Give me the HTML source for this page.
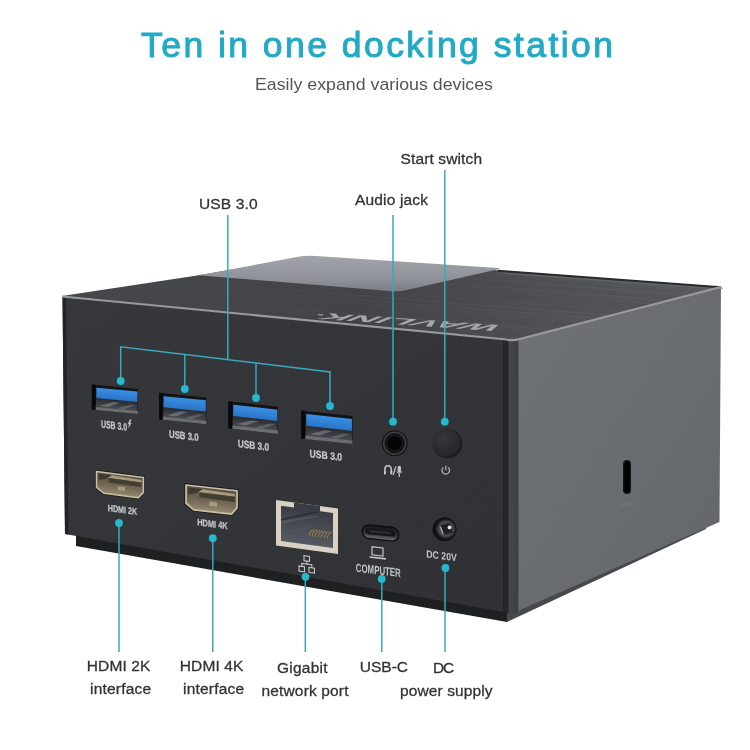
<!DOCTYPE html>
<html><head><meta charset="utf-8">
<style>
html,body{margin:0;padding:0;background:#fff;width:750px;height:750px;overflow:hidden}
svg{display:block;will-change:transform}
text{font-family:"Liberation Sans",sans-serif}
</style></head>
<body>
<svg width="750" height="750" viewBox="0 0 750 750">
<defs>
  <linearGradient id="gTop" gradientUnits="userSpaceOnUse" x1="62" y1="300" x2="721" y2="280">
    <stop offset="0" stop-color="#46474b"/>
    <stop offset="0.45" stop-color="#434448"/>
    <stop offset="0.75" stop-color="#4f5155"/>
    <stop offset="1" stop-color="#575a5e"/>
  </linearGradient>
  <linearGradient id="gPanel" x1="0" y1="0" x2="0" y2="1">
    <stop offset="0" stop-color="#a1a4aa"/>
    <stop offset="0.7" stop-color="#8d9097"/>
    <stop offset="1" stop-color="#7b7e84"/>
  </linearGradient>
  <linearGradient id="gFront" x1="0" y1="0" x2="1" y2="1">
    <stop offset="0" stop-color="#37383c"/>
    <stop offset="1" stop-color="#303135"/>
  </linearGradient>
  <linearGradient id="gRight" x1="0" y1="0" x2="1" y2="1">
    <stop offset="0" stop-color="#6f7277"/>
    <stop offset="1" stop-color="#63666b"/>
  </linearGradient>
  <linearGradient id="gEdge" x1="0" y1="0" x2="1" y2="0">
    <stop offset="0" stop-color="#232427"/>
    <stop offset="0.3" stop-color="#26272a"/>
    <stop offset="0.4" stop-color="#46484c"/>
    <stop offset="0.9" stop-color="#3c3e42"/>
    <stop offset="1" stop-color="#5e6064"/>
  </linearGradient>
  <linearGradient id="gBlue" x1="0" y1="0" x2="0" y2="1">
    <stop offset="0" stop-color="#3a8fe2"/>
    <stop offset="1" stop-color="#2a74c8"/>
  </linearGradient>
  <linearGradient id="gTray" x1="0" y1="0" x2="0" y2="1">
    <stop offset="0" stop-color="#18191c"/>
    <stop offset="0.55" stop-color="#2a2c30"/>
    <stop offset="1" stop-color="#4a4d52"/>
  </linearGradient>
  <linearGradient id="gHdmi" x1="0" y1="0" x2="0" y2="1">
    <stop offset="0" stop-color="#5a5244"/>
    <stop offset="0.5" stop-color="#6c624f"/>
    <stop offset="1" stop-color="#968870"/>
  </linearGradient>
  <linearGradient id="gRj" x1="0" y1="0" x2="0" y2="1">
    <stop offset="0" stop-color="#3a3d44"/>
    <stop offset="1" stop-color="#555961"/>
  </linearGradient>
  <radialGradient id="gBtn" cx="0.4" cy="0.35" r="0.7">
    <stop offset="0" stop-color="#36373b"/>
    <stop offset="1" stop-color="#242528"/>
  </radialGradient>

  <!-- USB-A port, local 46 x 26 -->
  <g id="usb">
    <polygon points="0,0 46,0 46,26 0,26" fill="#121315"/>
    <rect x="4" y="2.2" width="41.5" height="21.5" fill="url(#gTray)"/>
    <rect x="4.5" y="2.8" width="41" height="10.8" fill="url(#gBlue)"/>
    <polygon points="8,21 21,16 28,16 16,21.5" fill="#8a8e94" opacity="0.55"/>
    <polygon points="25,22 38,17 44,17 32,22.5" fill="#83878d" opacity="0.45"/>
    <rect x="3.5" y="22.8" width="42.5" height="3.2" fill="#6a6d72"/>
    <rect x="0" y="0" width="3.5" height="26" fill="#09090b"/>
  </g>
  <!-- HDMI port local 46 x 21 -->
  <g id="hdmi">
    <polygon points="-1.5,-1.5 47.5,-1.5 47.5,15.5 41.7,22.5 6.5,22.5 -1.5,17" fill="#18191b"/>
    <polygon points="0,0 46,0 46,15 41,21 7,21 0,16" fill="url(#gHdmi)" stroke="#cdc1a5" stroke-width="1.5" stroke-linejoin="round"/>
    <polygon points="2,2 15,2 10,6 2,8" fill="#3f3a31"/>
    <polygon points="10,6 15,2 44,3 44,5.5 12,5" fill="#a89a7d"/>
    <polygon points="12,5 44,5.5 44,10 12,9.5" fill="#433d32"/>
    <rect x="21" y="12" width="7" height="4" fill="#c9bda0" opacity="0.55"/>
  </g>
  <clipPath id="clipTop"><polygon points="62,296 198.7,275.3 306,257 502,270.5 721,287 512,341"/></clipPath>
  <linearGradient id="gUsbc" x1="0" y1="0" x2="0" y2="1">
    <stop offset="0" stop-color="#1b1c1e"/>
    <stop offset="0.6" stop-color="#2e2f32"/>
    <stop offset="1" stop-color="#6a6c70"/>
  </linearGradient>
  <linearGradient id="gMask" x1="0" y1="0" x2="1" y2="0">
    <stop offset="0" stop-color="#fff" stop-opacity="0.25"/>
    <stop offset="0.5" stop-color="#fff" stop-opacity="0.6"/>
    <stop offset="1" stop-color="#fff" stop-opacity="1"/>
  </linearGradient>
  <mask id="mStreak" maskUnits="userSpaceOnUse" x="0" y="0" width="750" height="750"><rect x="60" y="250" width="670" height="100" fill="url(#gMask)"/></mask>
</defs>

<!-- Title -->
<text x="141" y="57" font-size="35.5" fill="#21aac6" stroke="#21aac6" stroke-width="1" textLength="472" lengthAdjust="spacing">Ten in one docking station</text>
<text x="255" y="90" font-size="17" fill="#555" textLength="238" lengthAdjust="spacingAndGlyphs">Easily expand various devices</text>

<!-- plinth -->
<polygon points="76,530 507,604 507,622 76,546" fill="#1f2022"/>
<polygon points="507,604 706,515 706,529 507,622" fill="#48494d"/>
<!-- Box: top face -->
<polygon points="62,296 198.7,275.3 306,257 502,270.5 721,287 512,341" fill="url(#gTop)"/>
<g clip-path="url(#clipTop)" mask="url(#mStreak)">
<line x1="60" y1="239.7" x2="730" y2="292.0" stroke="#ffffff" stroke-opacity="0.028" stroke-width="1.1"/>
<line x1="60" y1="241.7" x2="730" y2="294.0" stroke="#ffffff" stroke-opacity="0.014" stroke-width="1.3"/>
<line x1="60" y1="243.0" x2="730" y2="295.2" stroke="#000000" stroke-opacity="0.017" stroke-width="1.0"/>
<line x1="60" y1="245.1" x2="730" y2="297.4" stroke="#000000" stroke-opacity="0.025" stroke-width="0.7"/>
<line x1="60" y1="246.5" x2="730" y2="298.8" stroke="#ffffff" stroke-opacity="0.038" stroke-width="1.2"/>
<line x1="60" y1="248.2" x2="730" y2="300.4" stroke="#000000" stroke-opacity="0.014" stroke-width="1.1"/>
<line x1="60" y1="249.4" x2="730" y2="301.7" stroke="#000000" stroke-opacity="0.010" stroke-width="1.0"/>
<line x1="60" y1="251.4" x2="730" y2="303.7" stroke="#000000" stroke-opacity="0.038" stroke-width="1.3"/>
<line x1="60" y1="252.7" x2="730" y2="305.0" stroke="#ffffff" stroke-opacity="0.035" stroke-width="1.3"/>
<line x1="60" y1="254.8" x2="730" y2="307.0" stroke="#ffffff" stroke-opacity="0.014" stroke-width="0.8"/>
<line x1="60" y1="256.5" x2="730" y2="308.7" stroke="#000000" stroke-opacity="0.025" stroke-width="0.8"/>
<line x1="60" y1="257.6" x2="730" y2="309.9" stroke="#ffffff" stroke-opacity="0.021" stroke-width="1.1"/>
<line x1="60" y1="259.3" x2="730" y2="311.5" stroke="#000000" stroke-opacity="0.038" stroke-width="1.3"/>
<line x1="60" y1="261.2" x2="730" y2="313.4" stroke="#000000" stroke-opacity="0.042" stroke-width="0.7"/>
<line x1="60" y1="262.8" x2="730" y2="315.0" stroke="#000000" stroke-opacity="0.042" stroke-width="1.1"/>
<line x1="60" y1="264.2" x2="730" y2="316.5" stroke="#000000" stroke-opacity="0.017" stroke-width="1.1"/>
<line x1="60" y1="265.4" x2="730" y2="317.6" stroke="#000000" stroke-opacity="0.014" stroke-width="1.4"/>
<line x1="60" y1="266.8" x2="730" y2="319.0" stroke="#ffffff" stroke-opacity="0.035" stroke-width="0.7"/>
<line x1="60" y1="268.6" x2="730" y2="320.9" stroke="#000000" stroke-opacity="0.035" stroke-width="0.6"/>
<line x1="60" y1="270.5" x2="730" y2="322.8" stroke="#000000" stroke-opacity="0.010" stroke-width="0.9"/>
<line x1="60" y1="272.4" x2="730" y2="324.6" stroke="#ffffff" stroke-opacity="0.042" stroke-width="1.4"/>
<line x1="60" y1="273.4" x2="730" y2="325.7" stroke="#ffffff" stroke-opacity="0.014" stroke-width="0.6"/>
<line x1="60" y1="274.9" x2="730" y2="327.2" stroke="#000000" stroke-opacity="0.025" stroke-width="0.7"/>
<line x1="60" y1="276.3" x2="730" y2="328.6" stroke="#ffffff" stroke-opacity="0.038" stroke-width="1.4"/>
<line x1="60" y1="278.8" x2="730" y2="331.1" stroke="#ffffff" stroke-opacity="0.021" stroke-width="1.0"/>
<line x1="60" y1="280.1" x2="730" y2="332.4" stroke="#ffffff" stroke-opacity="0.028" stroke-width="1.1"/>
<line x1="60" y1="282.0" x2="730" y2="334.3" stroke="#ffffff" stroke-opacity="0.028" stroke-width="1.2"/>
<line x1="60" y1="282.9" x2="730" y2="335.2" stroke="#000000" stroke-opacity="0.021" stroke-width="1.0"/>
<line x1="60" y1="284.8" x2="730" y2="337.1" stroke="#ffffff" stroke-opacity="0.010" stroke-width="1.1"/>
<line x1="60" y1="285.9" x2="730" y2="338.2" stroke="#000000" stroke-opacity="0.032" stroke-width="0.6"/>
<line x1="60" y1="288.1" x2="730" y2="340.4" stroke="#000000" stroke-opacity="0.025" stroke-width="0.9"/>
<line x1="60" y1="289.8" x2="730" y2="342.1" stroke="#ffffff" stroke-opacity="0.035" stroke-width="0.6"/>
<line x1="60" y1="291.4" x2="730" y2="343.6" stroke="#ffffff" stroke-opacity="0.042" stroke-width="1.0"/>
<line x1="60" y1="292.9" x2="730" y2="345.2" stroke="#ffffff" stroke-opacity="0.021" stroke-width="0.9"/>
<line x1="60" y1="294.3" x2="730" y2="346.5" stroke="#ffffff" stroke-opacity="0.028" stroke-width="0.9"/>
<line x1="60" y1="296.3" x2="730" y2="348.5" stroke="#ffffff" stroke-opacity="0.010" stroke-width="1.2"/>
<line x1="60" y1="297.4" x2="730" y2="349.7" stroke="#000000" stroke-opacity="0.017" stroke-width="0.8"/>
<line x1="60" y1="298.9" x2="730" y2="351.1" stroke="#000000" stroke-opacity="0.025" stroke-width="0.7"/>
<line x1="60" y1="300.6" x2="730" y2="352.9" stroke="#000000" stroke-opacity="0.021" stroke-width="1.0"/>
<line x1="60" y1="302.8" x2="730" y2="355.0" stroke="#ffffff" stroke-opacity="0.017" stroke-width="1.1"/>
<line x1="60" y1="304.4" x2="730" y2="356.6" stroke="#ffffff" stroke-opacity="0.025" stroke-width="0.7"/>
<line x1="60" y1="305.6" x2="730" y2="357.9" stroke="#000000" stroke-opacity="0.017" stroke-width="1.3"/>
<line x1="60" y1="306.9" x2="730" y2="359.1" stroke="#000000" stroke-opacity="0.021" stroke-width="1.1"/>
<line x1="60" y1="309.1" x2="730" y2="361.4" stroke="#ffffff" stroke-opacity="0.021" stroke-width="0.8"/>
<line x1="60" y1="310.7" x2="730" y2="363.0" stroke="#ffffff" stroke-opacity="0.017" stroke-width="0.9"/>
<line x1="60" y1="311.9" x2="730" y2="364.2" stroke="#000000" stroke-opacity="0.025" stroke-width="0.7"/>
<line x1="60" y1="313.1" x2="730" y2="365.4" stroke="#000000" stroke-opacity="0.038" stroke-width="1.4"/>
<line x1="60" y1="315.1" x2="730" y2="367.4" stroke="#000000" stroke-opacity="0.042" stroke-width="0.8"/>
<line x1="60" y1="317.0" x2="730" y2="369.3" stroke="#000000" stroke-opacity="0.038" stroke-width="1.0"/>
<line x1="60" y1="318.2" x2="730" y2="370.4" stroke="#ffffff" stroke-opacity="0.021" stroke-width="0.7"/>
<line x1="60" y1="320.1" x2="730" y2="372.3" stroke="#000000" stroke-opacity="0.021" stroke-width="0.6"/>
<line x1="60" y1="322.0" x2="730" y2="374.3" stroke="#000000" stroke-opacity="0.032" stroke-width="1.3"/>
<line x1="60" y1="323.6" x2="730" y2="375.9" stroke="#ffffff" stroke-opacity="0.028" stroke-width="1.2"/>
<line x1="60" y1="324.5" x2="730" y2="376.7" stroke="#000000" stroke-opacity="0.021" stroke-width="1.0"/>
<line x1="60" y1="326.3" x2="730" y2="378.6" stroke="#000000" stroke-opacity="0.038" stroke-width="0.9"/>
<line x1="60" y1="327.8" x2="730" y2="380.0" stroke="#ffffff" stroke-opacity="0.038" stroke-width="1.2"/>
<line x1="60" y1="329.5" x2="730" y2="381.7" stroke="#ffffff" stroke-opacity="0.017" stroke-width="1.3"/>
<line x1="60" y1="330.9" x2="730" y2="383.1" stroke="#000000" stroke-opacity="0.035" stroke-width="1.2"/>
<line x1="60" y1="333.1" x2="730" y2="385.4" stroke="#000000" stroke-opacity="0.010" stroke-width="1.3"/>
<line x1="60" y1="333.9" x2="730" y2="386.2" stroke="#ffffff" stroke-opacity="0.017" stroke-width="1.0"/>
</g>
<polyline points="498,270.8 721,287.3" fill="none" stroke="#2a2b2e" stroke-width="2"/>
<polyline points="503,273 714,288.8" fill="none" stroke="#686a6e" stroke-width="1"/>

<path d="M201.6,274.75 L298.1,256.8 Q306,255.3 316,255.96 L498,268.04 Q502,268.3 498.1,269.2 L406.8,289.9 Q399,291.7 389,290.9 L201.7,275.5 Q198.7,275.3 201.6,274.75 Z" fill="url(#gPanel)"/>
<!-- front face -->
<polygon points="62.5,296.5 508,339.5 507,612.5 65,534" fill="url(#gFront)"/>
<polygon points="62.5,296.5 66,297 68.5,534.5 65,534" fill="#232427"/>
<!-- right face -->
<polygon points="512,340 721,286 719.5,522 512,613.5" fill="url(#gRight)"/>
<!-- corner edge -->
<polygon points="503,339 519,339.5 519,614.5 503,612.5" fill="url(#gEdge)"/>
<!-- edge highlights -->
<path d="M62,296.5 L504,339.3 Q512,341 519,339.3 L719,287.5 Q721.5,287 721.5,289" fill="none" stroke="#989a9e" stroke-width="2.1"/>

<!-- logo on top -->
<text transform="matrix(-1,-0.07,0.9,-0.36,505,325.5)" x="0" y="0" font-size="22" font-weight="bold" fill="#a4a7ab" textLength="176" lengthAdjust="spacingAndGlyphs">WAVLINK</text>
<rect x="318" y="314" width="5" height="1.5" fill="#8e9195" transform="rotate(4 320 315)"/>

<!-- USB ports -->
<use href="#usb" transform="matrix(1,0.0957,0,0.97,91.9,384.5)"/>
<use href="#usb" transform="matrix(1.028,0.102,0,1.027,159,392.8)"/>
<use href="#usb" transform="matrix(1.076,0.122,0,1.042,228.4,401.2)"/>
<use href="#usb" transform="matrix(1.115,0.122,0,1.077,301.2,410.5)"/>

<g font-size="10.5" font-weight="bold" fill="#c3c5c8" stroke="#c3c5c8" stroke-width="0.3">
<text transform="matrix(1,0.12,0,1,101,427.5)" textLength="26" lengthAdjust="spacingAndGlyphs">USB 3.0</text>
<polygon transform="matrix(1,0.12,0,1,127.3,419.3)" points="2.6,0 4,0 2.6,3.3 4,3.3 1.2,8.2 1.9,4.6 0.7,4.6" fill="#c3c5c8"/>
<text transform="matrix(1,0.12,0,1,169,437.5)" textLength="29.5" lengthAdjust="spacingAndGlyphs">USB 3.0</text>
<text transform="matrix(1,0.12,0,1,237.7,447)" textLength="31.5" lengthAdjust="spacingAndGlyphs">USB 3.0</text>
<text transform="matrix(1,0.12,0,1,309.6,457)" textLength="32.5" lengthAdjust="spacingAndGlyphs">USB 3.0</text>
</g>

<!-- HDMI -->
<use href="#hdmi" transform="matrix(1.02,0.13,0,1.0,96.5,471.4)"/>
<use href="#hdmi" transform="matrix(1.11,0.125,0,1.14,186,485)"/>
<g font-size="9.5" font-weight="bold" fill="#c3c5c8" stroke="#c3c5c8" stroke-width="0.25">
<text transform="matrix(1,0.13,0,1,107.7,511.2)" textLength="29.5" lengthAdjust="spacingAndGlyphs">HDMI 2K</text>
<text transform="matrix(1,0.13,0,1,197.2,525.3)" textLength="30.5" lengthAdjust="spacingAndGlyphs">HDMI 4K</text>
</g>

<!-- RJ45 -->
<g transform="matrix(1,0.137,0,1.02,276,500)">
  <rect x="0" y="0" width="62" height="44.5" fill="#d9d1c3"/>
  <rect x="5" y="5" width="52" height="34.5" fill="url(#gRj)"/>
  <rect x="18" y="0" width="26" height="8" fill="#3a3d43"/>
  <polygon points="5,18 5,19.5 42,6.5 40,6" fill="#23252a" opacity="0.7"/>
  <polygon points="5,20 40,10 42,10.5 5,22.5" fill="#60646b" opacity="0.55"/>
  <polygon points="5,30 36,21 38,21.5 5,32" fill="#555960" opacity="0.5"/>
  <g stroke="#a8854f" stroke-width="1" opacity="0.8" fill="none">
    <path d="M33,31 Q34,25 38,24"/><path d="M36,31 Q37,25 41,24"/>
    <path d="M39,31 Q40,25 44,24"/><path d="M42,31 Q43,25 47,24"/>
    <path d="M45,31 Q46,25 50,24"/><path d="M48,31 Q49,25 53,24"/>
    <path d="M51,31 Q52,25 56,24"/>
  </g>
</g>
<!-- network icon -->
<g stroke="#c3c5c8" stroke-width="1.1" fill="none" transform="matrix(1,0.14,0,1,299,555)">
  <rect x="5" y="0" width="5.5" height="5"/>
  <rect x="0" y="11" width="5.5" height="5"/>
  <rect x="10" y="11" width="5.5" height="5"/>
  <polyline points="7.8,5 7.8,8 2.8,8 2.8,11"/>
  <polyline points="7.8,8 12.8,8 12.8,11"/>
</g>

<!-- USB-C -->
<g transform="matrix(1,0.1,0,1,361.5,523.5)">
  <rect x="0" y="0" width="38" height="15" rx="7.5" fill="#0f1012"/>
  <rect x="1.5" y="1.8" width="35" height="11.8" rx="5.9" fill="url(#gUsbc)"/>
  <rect x="4" y="3.8" width="30" height="6.2" rx="3.1" fill="#151618"/>
  <rect x="8" y="5.6" width="22" height="2.4" rx="1.2" fill="#2a2b2e"/>
</g>
<!-- laptop icon -->
<g transform="matrix(1,0.12,0,1,370,546)" fill="none" stroke="#c3c5c8" stroke-width="1.2">
  <rect x="2" y="0.5" width="11" height="8"/>
  <line x1="-0.5" y1="11" x2="16" y2="11" stroke-width="1.6"/>
</g>
<text transform="matrix(1,0.12,0,1,355.8,571.7)" font-size="12" font-weight="bold" fill="#c3c5c8" textLength="45" lengthAdjust="spacingAndGlyphs">COMPUTER</text>

<!-- DC jack -->
<circle cx="444.5" cy="529.2" r="12" fill="#111214"/>
<circle cx="445.5" cy="529" r="9" fill="#45474b"/>
<circle cx="446" cy="529" r="9" fill="none" stroke="#2a2b2e" stroke-width="1.5"/>
<rect x="441.5" y="524" width="10" height="10" fill="#1e1f22" transform="rotate(-15 446.5 529)"/>
<line x1="440.5" y1="527" x2="443" y2="534" stroke="#a5a7ab" stroke-width="1.4" stroke-linecap="round"/>
<circle cx="449.5" cy="527.4" r="1.9" fill="#e6e7e9"/>
<text transform="matrix(1,0.12,0,1,426.3,557.5)" font-size="10.5" font-weight="bold" fill="#c3c5c8" textLength="30.5" lengthAdjust="spacingAndGlyphs">DC 20V</text>

<!-- Audio jack -->
<circle cx="394.7" cy="443.3" r="13" fill="#141517"/>
<circle cx="394.7" cy="443.3" r="11" fill="none" stroke="#3e4044" stroke-width="1.5"/>
<circle cx="394.7" cy="443.3" r="7" fill="#050505"/>
<!-- audio icon -->
<g fill="none" stroke="#c3c5c8" stroke-width="1.5">
  <path d="M384.9,473 V469 A3.2,3.2 0 0 1 391.3,469 V473"/>
  <rect x="384" y="470.8" width="2" height="3.8" rx="0.8" fill="#c3c5c8" stroke="none"/>
  <rect x="390.3" y="470.8" width="2" height="3.8" rx="0.8" fill="#c3c5c8" stroke="none"/>
  <line x1="393.2" y1="475" x2="395.8" y2="466.5" stroke-width="1.2"/>
  <rect x="397.6" y="465.8" width="3.4" height="7" rx="1.7" fill="#c3c5c8" stroke="none"/>
  <path d="M396.8,471.5 Q399.3,475.5 401.8,471.5" stroke-width="1"/>
  <line x1="399.3" y1="474" x2="399.3" y2="477" stroke-width="1.2"/>
</g>

<!-- Power button -->
<circle cx="447.5" cy="443.5" r="14.7" fill="#1b1c1e"/>
<circle cx="446.5" cy="442.5" r="14" fill="url(#gBtn)"/>
<!-- power icon -->
<g transform="translate(445.8,470.2)" fill="none" stroke="#b5b7ba" stroke-width="1.2">
  <path d="M-2.5,-2.8 A3.8,3.8 0 1 0 2.5,-2.8"/>
  <line x1="0" y1="-4.5" x2="0" y2="0"/>
</g>

<!-- lock slot -->
<rect x="623" y="460" width="8" height="34" rx="4" fill="#121315"/>
<rect x="624.5" y="462" width="5" height="30" rx="2.5" fill="#000"/>
<text x="627" y="506" font-size="5" fill="#7c7f84" text-anchor="middle">LOCK</text>

<!-- callout labels -->
<g font-size="15.5" fill="#333" stroke="#333" stroke-width="0.3" lengthAdjust="spacingAndGlyphs">
<text x="199" y="209.1" textLength="58.5">USB 3.0</text>
<text x="355" y="204.8" textLength="73">Audio jack</text>
<text x="400.5" y="163.5" textLength="81.5">Start switch</text>
<text x="86.8" y="671" textLength="63.5">HDMI 2K</text>
<text x="90" y="694" textLength="61">interface</text>
<text x="179.8" y="671" textLength="63.5">HDMI 4K</text>
<text x="183" y="694" textLength="61">interface</text>
<text x="277" y="672.7" textLength="50.5">Gigabit</text>
<text x="261.5" y="696" textLength="87">network port</text>
<text x="359.8" y="672.3" textLength="48.2">USB-C</text>
<text x="433" y="672.5" textLength="21.3">DC</text>
<text x="400" y="696" textLength="92.5">power supply</text>
</g>

<!-- callout lines -->
<g stroke="#38aabb" stroke-width="1.5" fill="none">
<line x1="227.8" y1="215" x2="227.8" y2="359"/>
<polyline points="120.7,381 120.7,346.8 330,372 330,406"/>
<line x1="184.8" y1="354.6" x2="184.8" y2="389"/>
<line x1="256" y1="364" x2="256" y2="398"/>
<line x1="393" y1="215" x2="393" y2="421.7"/>
<line x1="444.8" y1="170" x2="444.8" y2="421.7"/>
<line x1="119" y1="523" x2="119" y2="652"/>
<line x1="212.8" y1="538" x2="212.8" y2="652"/>
<line x1="305.3" y1="577" x2="305.3" y2="652"/>
<line x1="381.8" y1="579" x2="381.8" y2="652"/>
<line x1="445" y1="568" x2="445" y2="652"/>
</g>
<g fill="#26b8cc">
<circle cx="120.7" cy="381" r="3.9"/>
<circle cx="184.8" cy="389" r="3.9"/>
<circle cx="256" cy="398" r="3.9"/>
<circle cx="330" cy="406" r="3.9"/>
<circle cx="393" cy="421.7" r="3.9"/>
<circle cx="444.8" cy="421.7" r="3.9"/>
<circle cx="119" cy="523" r="3.9"/>
<circle cx="212.8" cy="538.2" r="3.9"/>
<circle cx="305.5" cy="576.8" r="3.9"/>
<circle cx="381.7" cy="579" r="3.9"/>
<circle cx="445.4" cy="568" r="3.9"/>
</g>
</svg>
</body></html>
